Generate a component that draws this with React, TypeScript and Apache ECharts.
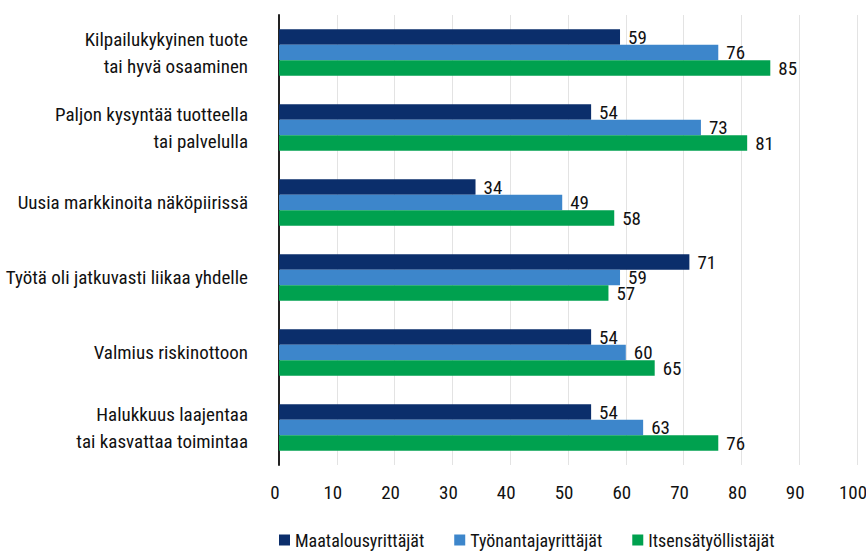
import React, { useEffect, useRef } from "react";
import * as echarts from "echarts";

const categories = [
  "Kilpailukykyinen tuote\ntai hyvä osaaminen",
  "Paljon kysyntää tuotteella\ntai palvelulla",
  "Uusia markkinoita näköpiirissä",
  "Työtä oli jatkuvasti liikaa yhdelle",
  "Valmius riskinottoon",
  "Halukkuus laajentaa\ntai kasvattaa toimintaa",
];
const seriesNames = ["Maatalousyrittäjät", "Työnantajayrittäjät", "Itsensätyöllistäjät"];
const maatalous = [59, 54, 34, 71, 54, 54];
const tyonantaja = [76, 73, 49, 59, 60, 63];
const itsensa = [85, 81, 58, 57, 65, 76];
const colors = ["#0b2e6b", "#3d86cb", "#00a14f"];

const FONT = "'Roboto Condensed', 'Liberation Sans Narrow', 'DejaVu Sans Condensed', sans-serif";

export default function App() {
  const ref = useRef<HTMLDivElement>(null);
  useEffect(() => {
    if (!ref.current) return;
    const chart = echarts.init(ref.current, undefined, { renderer: "svg" });
    const values = [maatalous, tyonantaja, itsensa];
    chart.setOption({
      animation: false,
      backgroundColor: "#ffffff",
      textStyle: { fontFamily: FONT },
      grid: { left: 279, right: 9, top: 15, bottom: 86, containLabel: false, outerBoundsMode: "none" },
      legend: {
        left: 274,
        top: 526,
        width: 590,
        itemWidth: 11,
        itemHeight: 11,
        itemGap: 30,
        icon: "rect",
        textStyle: { fontFamily: FONT, fontSize: 18, color: "#111" },
        data: seriesNames,
      },
      xAxis: {
        type: "value",
        min: 0,
        max: 100,
        interval: 10,
        axisLine: { show: false },
        axisTick: { show: false },
        splitLine: { show: true, lineStyle: { color: "#e3e3e3", width: 1 } },
        axisLabel: { fontFamily: FONT, fontSize: 19, color: "#111", margin: 18, padding: [0, 8, 0, 0] },
      },
      yAxis: {
        type: "category",
        inverse: true,
        data: categories,
        axisLine: { show: true, lineStyle: { color: "#222", width: 2 } },
        axisTick: { show: false },
        axisLabel: {
          fontFamily: FONT,
          fontSize: 19,
          lineHeight: 27,
          color: "#111",
          margin: 31,
          align: "right",
        },
      },
      series: seriesNames.map((name, i) => ({
        name,
        type: "bar",
        data: values[i],
        barGap: "0%",
        barCategoryGap: "38%",
        itemStyle: { color: colors[i] },
        label: {
          show: true,
          position: "right",
          distance: 8,
          fontFamily: FONT,
          fontSize: 19,
          color: "#111",
        },
      })),
    });
    return () => chart.dispose();
  }, []);
  return (
    <div
      ref={ref}
      style={{ position: "fixed", left: 0, top: 0, width: 866, height: 551 }}
    />
  );
}
